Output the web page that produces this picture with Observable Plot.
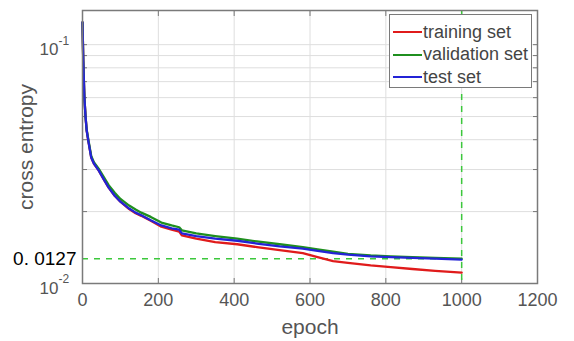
<!DOCTYPE html>
<html><head><meta charset="utf-8">
<script src="https://cdn.jsdelivr.net/npm/d3@7"></script>
<script src="https://cdn.jsdelivr.net/npm/@observablehq/plot@0.6"></script>
<style>
body{margin:0;background:#fff;}
#chart{position:relative;width:574px;height:341px;overflow:hidden;}
#legend{position:absolute;left:389px;top:14px;width:143px;height:74px;border:1.5px solid #7a7a7a;background:#fff;box-sizing:border-box;font-family:"Liberation Sans",Arial,sans-serif;font-size:18px;color:#444;padding-top:6px;}
#legend .row{display:flex;align-items:center;height:22.5px;white-space:nowrap;}
#legend .sw{display:inline-block;width:29px;height:2px;margin-left:3px;margin-right:1px;}
</style></head><body><div id="chart"><div id="legend"></div></div>
<script>
// epochs sampled along the curves
const epochs = [0, 2, 5, 8, 11, 16, 23, 30, 43, 55, 69, 85, 100, 123, 140, 155, 180, 208, 235, 255, 262, 300, 350, 408, 460, 520, 581, 620, 661, 700, 760, 813, 870, 930, 1000];
const training   = [0.124, 0.086, 0.060, 0.050, 0.0437, 0.0390, 0.0337, 0.0318, 0.0297, 0.0275, 0.0252, 0.0233, 0.0220, 0.0205, 0.0197, 0.0192, 0.0183, 0.0173, 0.0168, 0.0165, 0.0159, 0.0154, 0.0149, 0.0146, 0.0142, 0.0138, 0.0134, 0.0129, 0.0124, 0.0122, 0.0119, 0.0117, 0.0115, 0.0113, 0.0111];
const validation = [0.124, 0.086, 0.060, 0.050, 0.0440, 0.0395, 0.0342, 0.0322, 0.0302, 0.0281, 0.0258, 0.0240, 0.0226, 0.0212, 0.0204, 0.0198, 0.0190, 0.0180, 0.0175, 0.0172, 0.0167, 0.0162, 0.0158, 0.0154, 0.0150, 0.0146, 0.0142, 0.0139, 0.0136, 0.0133, 0.0131, 0.0130, 0.0129, 0.0128, 0.0127];
const test       = [0.124, 0.086, 0.060, 0.050, 0.0437, 0.0390, 0.0337, 0.0318, 0.0297, 0.0275, 0.0252, 0.0233, 0.0220, 0.0206, 0.0198, 0.0193, 0.0184, 0.0175, 0.0170, 0.0168, 0.0162, 0.0158, 0.0154, 0.0151, 0.0147, 0.0143, 0.0140, 0.0137, 0.0134, 0.0132, 0.0130, 0.0129, 0.0128, 0.0127, 0.0126];
const seriesNames = ["training set", "validation set", "test set"];
const seriesColors = ["#e01b1b", "#1f8f1f", "#2323d6"];
const xTicks = [0, 200, 400, 600, 800, 1000, 1200];
const yMinorTicks = [0.01, 0.02, 0.03, 0.04, 0.05, 0.06, 0.07, 0.08, 0.09, 0.1];
const yMajorTicks = [0.1, 0.01];
const yMajorBase = ["10", "10"];
const yMajorExp = ["-1", "-2"];
const bestEpoch = 1000;
const bestValue = 0.0127;
const bestLabel = "0. 0127";
const xLabel = "epoch";
const yLabel = "cross entropy";

const seriesValues = [training, validation, test];
const data = seriesNames.flatMap((name, s) => epochs.map((e, i) => ({epoch: e, value: seriesValues[s][i], set: name})));

const font = "Liberation Sans, Arial, sans-serif";
const plot = Plot.plot({
  width: 574, height: 341,
  marginLeft: 82, marginRight: 37, marginTop: 10, marginBottom: 58,
  style: {fontFamily: font, fontSize: "18px", color: "#555", background: "#fff"},
  x: {domain: [0, 1200], label: null},
  y: {type: "log", domain: [0.01, 0.139], label: null},
  color: {domain: seriesNames, range: seriesColors},
  marks: [
    Plot.ruleX(xTicks.slice(1, -1), {stroke: "#dedede", strokeWidth: 1}),
    Plot.ruleY(yMinorTicks.slice(1), {stroke: "#dedede", strokeWidth: 1}),
    Plot.axisX({anchor: "bottom", ticks: xTicks, tickSize: 0, tickPadding: 10, tickFormat: d => String(d), label: null, fill: "#555"}),
    Plot.axisX({anchor: "bottom", ticks: xTicks, tickSize: -5, tickFormat: () => "", label: null, stroke: "#777"}),
    Plot.axisX({anchor: "top", ticks: xTicks, tickSize: -5, tickFormat: () => "", label: null, stroke: "#777"}),
    Plot.axisY({anchor: "left", ticks: yMinorTicks, tickSize: -5, tickFormat: () => "", label: null, stroke: "#777"}),
    Plot.axisY({anchor: "right", ticks: yMinorTicks, tickSize: -5, tickFormat: () => "", label: null, stroke: "#777"}),
    Plot.text(yMajorTicks, {frameAnchor: "left", y: d => d, text: (d, i) => yMajorBase[i], textAnchor: "end", lineAnchor: "middle", dx: -24, dy: 5, fontSize: 17, fill: "#555"}),
    Plot.text(yMajorTicks, {frameAnchor: "left", y: d => d, text: (d, i) => yMajorExp[i], textAnchor: "start", lineAnchor: "middle", dx: -24, dy: -4, fontSize: 12, fill: "#555"}),
    Plot.ruleY([bestValue], {x1: 0, x2: bestEpoch, stroke: "#3cc83c", strokeWidth: 1.5, strokeDasharray: "6,6"}),
    Plot.ruleX([bestEpoch], {stroke: "#3cc83c", strokeWidth: 1.5, strokeDasharray: "6,6"}),
    Plot.line(data, {x: "epoch", y: "value", stroke: "set", z: "set", strokeWidth: 2.3}),
    Plot.text([bestValue], {frameAnchor: "left", y: d => d, text: () => bestLabel, textAnchor: "end", lineAnchor: "middle", dx: -6, fontSize: 19, fill: "#000"}),
    Plot.text([xLabel], {frameAnchor: "bottom", text: d => d, textAnchor: "middle", lineAnchor: "middle", dy: 44, fontSize: 21, fill: "#555"}),
    Plot.text([yLabel], {frameAnchor: "left", text: d => d, textAnchor: "middle", lineAnchor: "middle", dx: -56, rotate: -90, fontSize: 21, fill: "#555"}),
    Plot.frame({stroke: "#7a7a7a", strokeWidth: 1.5})
  ]
});
const chart = document.getElementById("chart");
chart.insertBefore(plot, chart.firstChild);
const legend = document.getElementById("legend");
seriesNames.forEach((name, i) => {
  const row = document.createElement("div");
  row.className = "row";
  const sw = document.createElement("span");
  sw.className = "sw";
  sw.style.background = seriesColors[i];
  row.appendChild(sw);
  row.appendChild(document.createTextNode(name));
  legend.appendChild(row);
});
</script></body></html>
